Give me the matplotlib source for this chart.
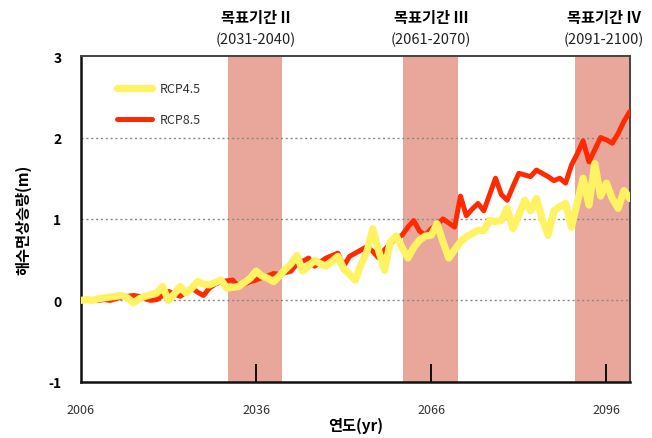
import matplotlib
matplotlib.use("Agg")
from matplotlib import pyplot as plt

plt.rcParams['font.family'] = ['Noto Sans CJK KR', 'DejaVu Sans']

years = list(range(2006, 2101))

rcp45 = [0.0, 0.01, 0.0, 0.02, 0.03, 0.04, 0.05, 0.06, 0.03, -0.03,
         0.02, 0.05, 0.07, 0.09, 0.17, 0.0, 0.08, 0.17, 0.09, 0.15,
         0.23, 0.2, 0.19, 0.22, 0.25, 0.15, 0.16, 0.17, 0.22, 0.27,
         0.36, 0.3, 0.27, 0.23, 0.3, 0.38, 0.45, 0.55, 0.36, 0.42,
         0.49, 0.45, 0.42, 0.48, 0.54, 0.39, 0.32, 0.25, 0.45, 0.6,
         0.88, 0.61, 0.37, 0.72, 0.79, 0.65, 0.52, 0.65, 0.74, 0.79,
         0.8, 0.94, 0.72, 0.52, 0.62, 0.72, 0.78, 0.82, 0.86, 0.86,
         0.98, 0.97, 0.98, 1.13, 0.88, 1.05, 1.23, 1.1, 1.25, 1.0,
         0.8, 1.1, 1.15, 1.19, 0.9, 1.2, 1.5, 1.17, 1.68, 1.28,
         1.44, 1.25, 1.13, 1.35, 1.25]

rcp85 = [0.0, 0.0, 0.0, 0.0, 0.01, 0.0, 0.02, 0.04, 0.05, 0.06,
         0.05, 0.02, 0.0, 0.01, 0.06, 0.11, 0.08, 0.05, 0.1, 0.15,
         0.1, 0.06, 0.15, 0.2, 0.23, 0.24, 0.25, 0.17, 0.2, 0.23,
         0.25, 0.28, 0.3, 0.33, 0.32, 0.34, 0.36, 0.45, 0.48, 0.52,
         0.42, 0.47, 0.52, 0.55, 0.58, 0.42, 0.54, 0.58, 0.62, 0.66,
         0.6, 0.52, 0.62, 0.7, 0.76, 0.8, 0.9, 0.98, 0.85, 0.8,
         0.88, 0.93, 1.0, 0.95, 0.9, 1.28, 1.04, 1.12, 1.19, 1.1,
         1.3, 1.5, 1.3, 1.23, 1.4, 1.56, 1.54, 1.52, 1.6, 1.56,
         1.52, 1.47, 1.5, 1.44, 1.66, 1.8, 1.96, 1.7, 1.85, 2.0,
         1.97, 1.93, 2.05, 2.2, 2.32]

periods = [(2031.2, 2040.5), (2061.2, 2070.5), (2090.6, 2100)]
period_titles = ["목표기간 II", "목표기간 III", "목표기간 IV"]
period_ranges = ["(2031-2040)", "(2061-2070)", "(2091-2100)"]
title_x = [2036, 2066, 2095.5]

xticks = [2006, 2036, 2066, 2096]
yticks = [-1, 0, 1, 2, 3]


def main():
    fig = plt.figure(figsize=(6.52, 4.39), dpi=100)
    ax = fig.add_axes([0.124, 0.128, 0.842, 0.742])

    for (a, b) in periods:
        ax.axvspan(a, b, color='#e9a79c', lw=0, zorder=1)
    for y in [0, 1, 2]:
        ax.axhline(y, color='#888888', ls=(0, (1.5, 2)), lw=1, zorder=2)

    ax.plot(years, rcp85, color='#ff2a00', lw=3.6, label="RCP8.5",
            solid_capstyle='round', zorder=3)
    ax.plot(years, rcp45, color='#fff263', lw=5.2, label="RCP4.5",
            solid_capstyle='round', zorder=4)

    ax.set_xlim(2006, 2100)
    ax.set_ylim(-1, 3)
    ax.set_xticks(xticks)
    ax.set_xticklabels([str(x) for x in xticks], color='#333333', fontsize=9)
    ax.set_yticks(yticks)
    ax.set_yticklabels([str(y) for y in yticks], fontsize=10, fontweight='bold')
    ax.tick_params(axis='x', direction='in', length=13, width=1.3, pad=15)
    ax.tick_params(axis='y', length=0, pad=14)
    ax.xaxis.get_major_ticks()[0].tick1line.set_visible(False)

    for s in ['left', 'bottom']:
        ax.spines[s].set_linewidth(1.8)
        ax.spines[s].set_color('#111111')
    for s in ['top', 'right']:
        ax.spines[s].set_linewidth(1.4)
        ax.spines[s].set_color('#444444')

    ax.set_xlabel("연도(yr)", fontsize=11, fontweight='bold', labelpad=1)
    ax.set_ylabel("해수면상승량(m)", fontsize=11, fontweight='bold', labelpad=12)

    for x, t, r in zip(title_x, period_titles, period_ranges):
        ax.text(x, 1.12, t, transform=ax.get_xaxis_transform(), ha='center',
                va='center', fontsize=11, fontweight='bold')
        ax.text(x, 1.052, r, transform=ax.get_xaxis_transform(), ha='center',
                va='center', fontsize=10.5, color='#222222')

    handles, labels = ax.get_legend_handles_labels()
    ax.legend(handles[::-1], labels[::-1], loc='upper left',
              bbox_to_anchor=(0.045, 0.955), frameon=False, fontsize=9,
              handlelength=2.8, labelspacing=1.45, handletextpad=0.6,
              labelcolor='#333333')

    fig.savefig("out.png", dpi=100)


if __name__ == '__main__':
    main()
